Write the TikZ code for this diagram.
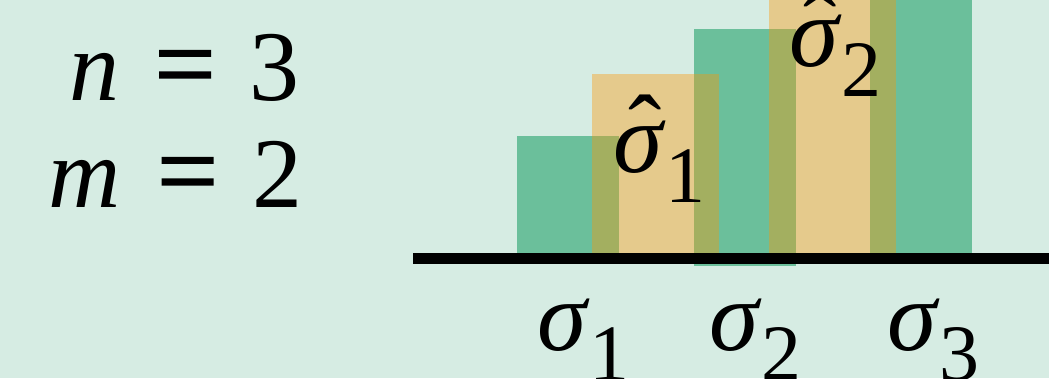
\documentclass[tikz,border=0pt]{standalone}
\usepackage{fontspec}
\setmainfont{Liberation Serif}
\newfontfamily\eqfont[FakeBold=1.6]{Liberation Serif}
\definecolor{bgc}{RGB}{214,236,227}
\definecolor{barg}{RGB}{107,191,155}
\definecolor{baro}{RGB}{255,149,0}
\newcommand{\bigsz}{\fontsize{100}{110}\selectfont}
\newcommand{\subsz}{\fontsize{80}{90}\selectfont}
\newcommand{\sigsub}[1]{\textit{σ}\raisebox{-30pt}{\subsz #1}}
\begin{document}
\begin{tikzpicture}[x=1pt,y=-1pt,
  txt/.style={inner sep=0pt,outer sep=0pt,font=\bigsz},
  eqs/.style={inner sep=0pt,outer sep=0pt,font={\eqfont\fontsize{108}{110}\selectfont}},
  gbar/.style={fill=barg,draw=none},
  obar/.style={fill=baro,fill opacity=0.38,draw=none},
  axisline/.style={line width=11pt,draw=black}]
\fill[bgc] (0,0) rectangle (1049,378);
\useasboundingbox (0,0) rectangle (1049,378);
% green bars
\fill[gbar] (517,136) rectangle (619,253);
\fill[gbar] (694,29) rectangle (796,266);
\fill[gbar] (870,-10) rectangle (972,253);
% orange translucent bars
\fill[obar] (592,74) rectangle (719,253);
\fill[obar] (769,-10) rectangle (896,253);
% axis
\coordinate (axL) at (413,258.5);
\coordinate (axR) at (1060,258.5);
\draw[axisline] (axL) -- (axR);
% left equations
\node[txt,anchor=base] (n) at (94,100) {\textit{n}};
\node[eqs,anchor=base] (eq1) at (185,100) {=};
\node[txt,anchor=base] (three) at (274.5,100) {3};
\node[txt,anchor=base] (m) at (85,207) {\textit{m}};
\node[eqs,anchor=base] (eq2) at (187.5,207) {=};
\node[txt,anchor=base] (two) at (277.5,207) {2};
% axis labels
\node[txt,anchor=base west] (s1) at (537,350) {\sigsub{1}};
\node[txt,anchor=base west] (s2) at (709,350) {\sigsub{2}};
\node[txt,anchor=base west] (s3) at (887,350) {\sigsub{3}};
% hat labels
\node[txt,anchor=base west] (h1) at (613,172) {\sigsub{1}};
\node[txt,anchor=base] (h1hat) at (645,164) {ˆ};
\node[txt,anchor=base west] (h2) at (789,66) {\sigsub{2}};
\node[txt,anchor=base] (h2hat) at (820,61) {ˆ};
\end{tikzpicture}
\end{document}
